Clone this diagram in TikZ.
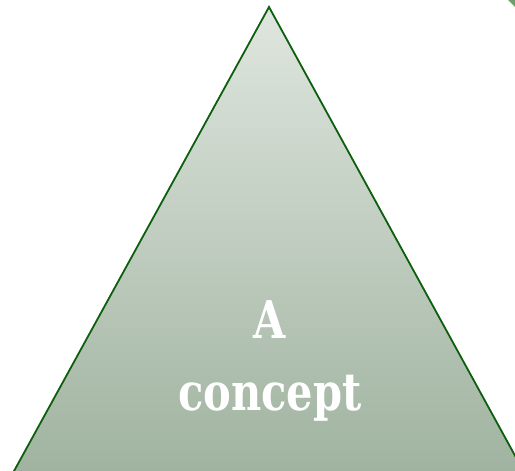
\documentclass[tikz,border=0pt]{standalone}
\usepackage{fontspec}
\usepackage{graphicx}
\newfontfamily\slabfont{DejaVu Serif}
\definecolor{edgegreen}{HTML}{0D5E0D}
\definecolor{topfill}{HTML}{DFE6DF}
\definecolor{botfill}{HTML}{A0B3A0}
\newcommand{\narrowtxt}[1]{\scalebox{0.8}[1]{#1}}
\tikzset{
  tri/.style={draw=edgegreen, line width=1.8pt, line join=miter, top color=topfill, bottom color=botfill},
  label/.style={text=white, font=\slabfont\bfseries\fontsize{52}{72}\selectfont, align=center}
}
\begin{document}
\begin{tikzpicture}[x=1pt,y=-1pt]
\useasboundingbox (0,0) rectangle (515,471);
\begin{scope}
\clip (0,0) rectangle (515,471);
\path[tri] (269,7) -- (524,472) -- (13.5,472) -- cycle;
\fill[edgegreen!60!white] (507,-1) -- (516,-1) -- (516,8) -- cycle;
\end{scope}
\node[label] (txt) at (270,361) {\narrowtxt{A}\\\narrowtxt{concept}};
\end{tikzpicture}
\end{document}
